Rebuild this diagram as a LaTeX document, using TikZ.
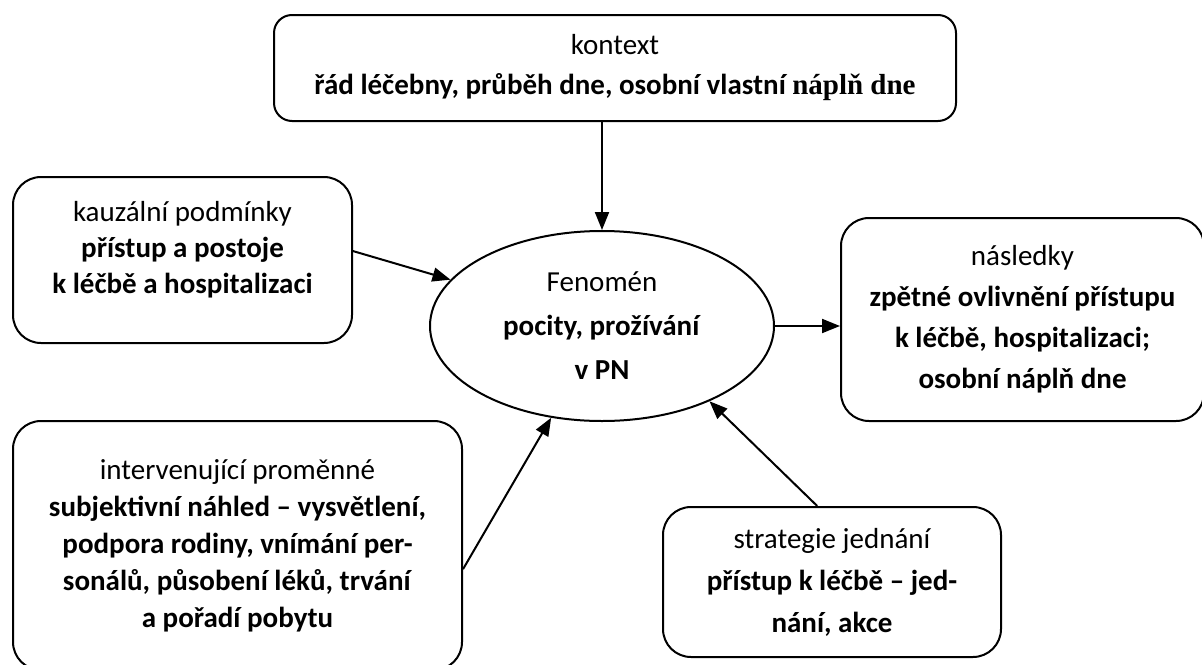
\documentclass[tikz,border=0pt]{standalone}
\usepackage{fontspec}
\setmainfont{Carlito}
\newfontfamily\timesfont{Liberation Serif}
\usetikzlibrary{arrows.meta,shapes.geometric}

\tikzset{
  box/.style={draw, line width=2pt, rounded corners=28pt, align=center,
    inner sep=0pt, font=\fontsize{29}{40}\selectfont},
  arr/.style={->, line width=2pt},
}

\begin{document}
\begin{tikzpicture}[x=1pt, y=-1pt, >={Triangle[length=18pt,width=14pt]}]
    \useasboundingbox (0,0) rectangle (1202,664);

    \node[box, rounded corners=18pt, minimum width=682, minimum height=106] (kontext) at (615,68)
      {kontext\\ \textbf{řád léčebny, průběh dne, osobní vlastní {\timesfont náplň dne}}};

    \node[box, minimum width=339, minimum height=166, text depth=25pt,
      font=\fontsize{29}{36}\selectfont] (kauzalni) at (182.5,260)
      {kauzální podmínky\\ \textbf{přístup a postoje}\\ \textbf{k léčbě a hospitalizaci}};

    \node[draw, ellipse, line width=2pt, inner sep=0pt, minimum width=344, minimum height=190,
      align=center, font=\fontsize{29}{44}\selectfont] (fenomen) at (602,326)
      {Fenomén\\ \textbf{pocity, prožívání}\\ \textbf{v PN}};

    \node[box, minimum width=363, minimum height=203, font=\fontsize{29}{41}\selectfont] (nasledky) at (1022.5,319.5)
      {následky\\ \textbf{zpětné ovlivnění přístupu}\\ \textbf{k léčbě, hospitalizaci;}\\ \textbf{osobní náplň dne}};

    \node[box, minimum width=449, minimum height=249, font=\fontsize{29}{37}\selectfont] (intervenujici) at (237.5,545.5)
      {intervenující proměnné\\ \textbf{subjektivní náhled – vysvětlení,}\\ \textbf{podpora rodiny, vnímání per-}\\
       \textbf{sonálů, působení léků, trvání}\\ \textbf{a pořadí pobytu}};

    \node[box, minimum width=338, minimum height=150, font=\fontsize{29}{42}\selectfont] (strategie) at (832,582)
      {strategie jednání\\ \textbf{přístup k léčbě – jed-}\\ \textbf{nání, akce}};

    \draw[arr] (kontext.south -| fenomen.north) -- (fenomen.north);
    \draw[arr] (kauzalni.3) -- (fenomen.163);
    \draw[arr] (fenomen.east) -- (fenomen.east -| nasledky.west);
    \draw[arr] (intervenujici.-6) -- (fenomen.241);
    \draw[arr] (strategie.101) -- (fenomen.-35);
  \end{tikzpicture}
\end{document}
